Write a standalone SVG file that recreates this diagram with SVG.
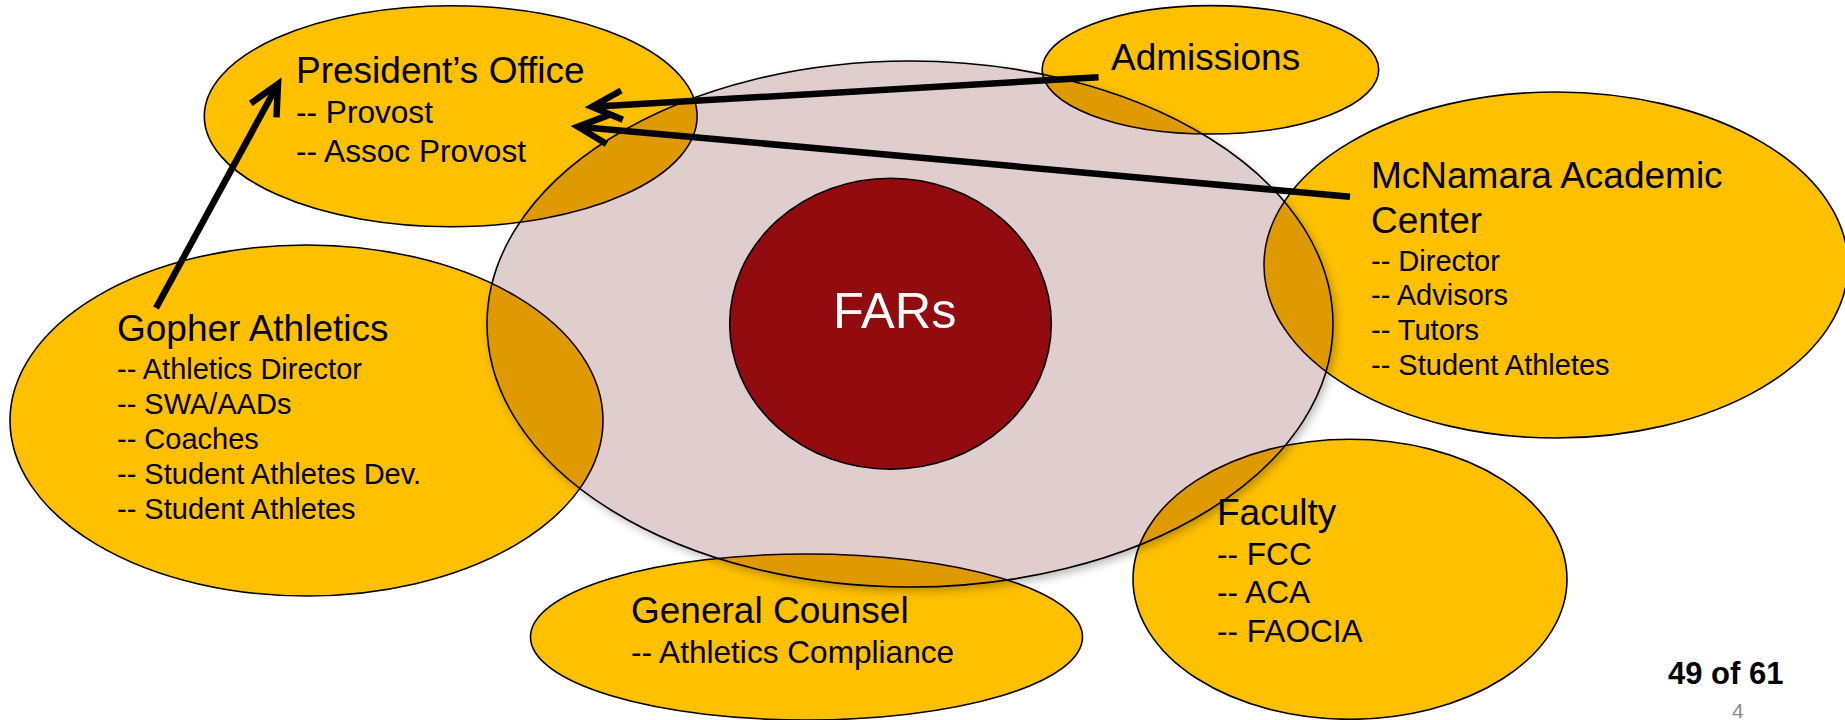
<svg xmlns="http://www.w3.org/2000/svg" width="1845" height="720" viewBox="0 0 1845 720">
<style>
.node{fill:#FFC000;stroke:#000;stroke-width:1.6}
text{font-family:"Liberation Sans",Arial,sans-serif;fill:#000}
.t{font-size:37px}
.s{font-size:31.6px}
.s2{font-size:29px}
.conn{stroke:#000;stroke-width:6.5;fill:none;stroke-linecap:butt}
</style>
<defs>
<marker id="arr" markerUnits="userSpaceOnUse" markerWidth="60" markerHeight="60" viewBox="-40 -30 50 60" refX="0" refY="0" orient="auto">
<path d="M-30,-14.6 L0,0 L-30,14.6" fill="none" stroke="#000" stroke-width="6.5" stroke-linejoin="miter"/>
</marker>
<filter id="blur" x="-20%" y="-20%" width="140%" height="140%"><feGaussianBlur stdDeviation="5"/></filter>
<mask id="outside" maskUnits="userSpaceOnUse" x="0" y="0" width="1845" height="720">
<rect x="0" y="0" width="1845" height="720" fill="#fff"/>
<ellipse cx="910" cy="324" rx="423" ry="263" fill="#000"/>
</mask>
</defs>
<rect x="0" y="0" width="1845" height="720" fill="#fff"/>

<g id="president">
<ellipse class="node" cx="450.7" cy="116.2" rx="246.4" ry="110.5"/>
</g>
<g id="admissions">
<ellipse class="node" cx="1210.4" cy="69.8" rx="168.3" ry="64.2"/>
</g>
<g id="mcnamara">
<ellipse class="node" cx="1556" cy="265" rx="292" ry="173"/>
</g>
<g id="gopher">
<ellipse class="node" cx="306.5" cy="420.5" rx="296.5" ry="175.5"/>
</g>
<g id="faculty">
<ellipse class="node" cx="1350" cy="579.3" rx="217" ry="140"/>
</g>
<g id="counsel">
<ellipse class="node" cx="806.5" cy="637" rx="276" ry="83"/>
</g>

<g id="ring">
<ellipse cx="913" cy="328" rx="423" ry="263" fill="#000" opacity="0.28" filter="url(#blur)" mask="url(#outside)"/>
<ellipse cx="910" cy="324" rx="423" ry="263" fill="#640505" fill-opacity="0.2" stroke="#000" stroke-width="1.6"/>
</g>
<g id="fars">
<ellipse cx="890.5" cy="323.8" rx="160.8" ry="145.5" fill="#920B0E" stroke="#000" stroke-width="1.6"/>
<text x="833" y="328" style="font-size:50.5px;fill:#fff">FARs</text>
</g>

<g id="president-text">
<text class="t" x="296" y="83">President’s Office</text>
<text class="s" x="296" y="123">-- Provost</text>
<text class="s" x="296" y="162">-- Assoc Provost</text>
</g>
<g id="admissions-text">
<text class="t" x="1111" y="70">Admissions</text>
</g>
<g id="mcnamara-text">
<text class="t" x="1371" y="188">McNamara Academic</text>
<text class="t" x="1371" y="233">Center</text>
<text class="s2" x="1371" y="270.5">-- Director</text>
<text class="s2" x="1371" y="305">-- Advisors</text>
<text class="s2" x="1371" y="340">-- Tutors</text>
<text class="s2" x="1371" y="375">-- Student Athletes</text>
</g>
<g id="gopher-text">
<text class="t" x="117" y="341">Gopher Athletics</text>
<text class="s2" x="117" y="379">-- Athletics Director</text>
<text class="s2" x="117" y="414">-- SWA/AADs</text>
<text class="s2" x="117" y="449">-- Coaches</text>
<text class="s2" x="117" y="484">-- Student Athletes Dev.</text>
<text class="s2" x="117" y="519">-- Student Athletes</text>
</g>
<g id="faculty-text">
<text class="t" x="1217" y="525">Faculty</text>
<text class="s" x="1217" y="565">-- FCC</text>
<text class="s" x="1217" y="603">-- ACA</text>
<text class="s" x="1217" y="642">-- FAOCIA</text>
</g>
<g id="counsel-text">
<text class="t" x="631" y="623">General Counsel</text>
<text class="s" x="631" y="663">-- Athletics Compliance</text>
</g>

<g id="connectors">
<line class="conn" x1="156" y1="308" x2="278" y2="84" marker-end="url(#arr)"/>
<line class="conn" x1="1098.6" y1="77.3" x2="592" y2="106.8" marker-end="url(#arr)"/>
<line class="conn" x1="1350" y1="196.7" x2="578" y2="126.7" marker-end="url(#arr)"/>
</g>

<g id="footer">
<text x="1668" y="684" style="font-size:31px;font-weight:bold">49 of 61</text>
<text x="1732" y="718" style="font-size:21px;fill:#898989">4</text>
</g>
</svg>
